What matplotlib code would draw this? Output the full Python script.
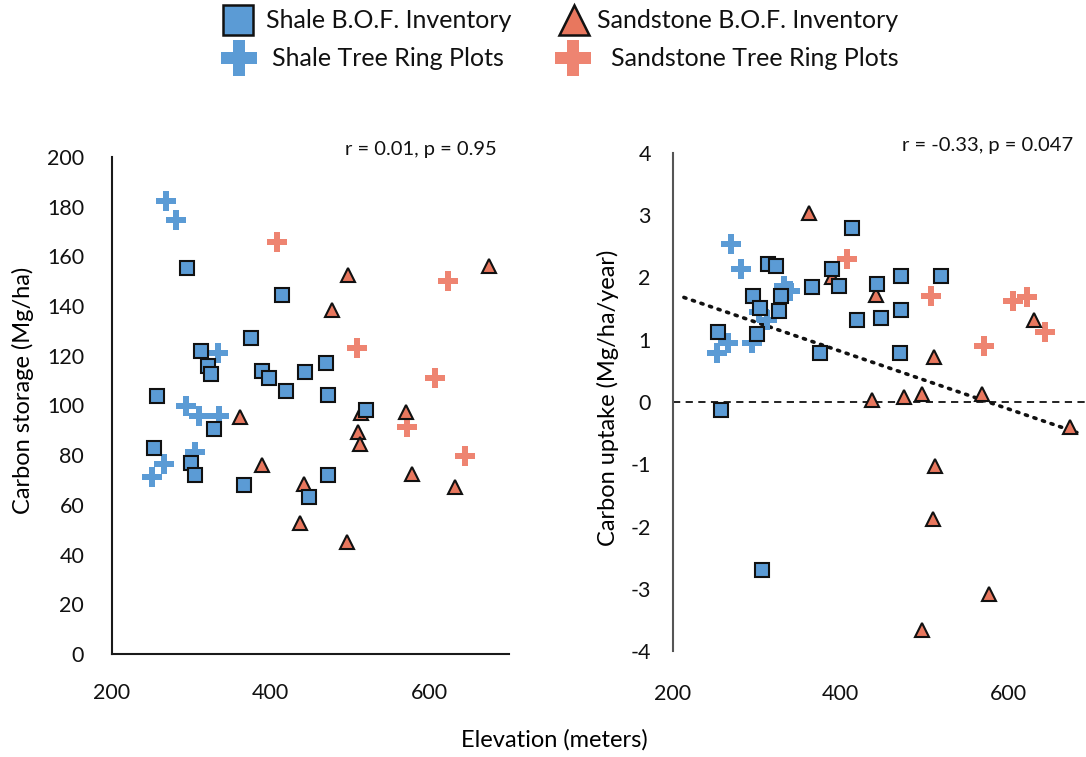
import numpy as np
import matplotlib.pyplot as plt
from matplotlib.lines import Line2D

plt.rcParams['font.family'] = ['Lato', 'DejaVu Sans']
plt.rcParams['axes.unicode_minus'] = False

# colours used by the two soil types
blue = '#5B9BD5'
tri_red = '#E8775E'
cross_red = '#EE8471'

# ---- left panel: carbon storage (Mg/ha) vs elevation (m) ----
shale_bof_elev = [295, 414, 375, 312, 321, 325, 389, 398, 443, 470, 419, 472,
                  257, 328, 520, 253, 299, 304, 472, 366, 448]
shale_bof_store = [155.5, 144.6, 127.2, 121.9, 115.9, 112.7, 113.8, 111.1, 113.5,
                   117.2, 105.7, 104.2, 103.9, 90.7, 98.2, 82.9, 77.0, 72.0, 71.9,
                   68.2, 63.1]
shale_ring_elev = [268, 281, 333, 293, 310, 335, 304, 265, 250]
shale_ring_store = [182.4, 174.6, 121.0, 99.9, 95.8, 95.8, 81.4, 76.3, 71.1]
sand_bof_elev = [497, 675, 477, 361, 513, 570, 510, 512, 389, 578, 632, 442, 437, 496]
sand_bof_store = [152.5, 156.0, 138.5, 95.3, 96.8, 97.4, 89.4, 84.6, 76.2, 72.4,
                  67.3, 68.6, 52.9, 45.2]
sand_ring_elev = [408, 623, 509, 607, 571, 645]
sand_ring_store = [165.6, 150.2, 123.1, 111.0, 91.2, 79.5]

# ---- right panel: carbon uptake (Mg/ha/year) vs elevation (m) ----
shale_bof_elev2 = [414, 313, 323, 390, 398, 366, 296, 329, 304, 326, 443, 472,
                   520, 472, 419, 448, 254, 300, 376, 471, 257, 306]
shale_bof_upt = [2.80, 2.22, 2.19, 2.13, 1.86, 1.84, 1.71, 1.70, 1.51, 1.46, 1.90,
                 2.02, 2.02, 1.47, 1.31, 1.35, 1.12, 1.09, 0.78, 0.78, -0.13, -2.70]
shale_ring_elev2 = [269, 281, 333, 340, 303, 312, 252, 266, 294]
shale_ring_upt = [2.54, 2.13, 1.86, 1.78, 1.45, 1.32, 0.79, 0.95, 0.95]
sand_bof_elev2 = [362, 390, 442, 512, 631, 438, 476, 497, 569, 674, 513, 510, 577, 497]
sand_bof_upt = [3.04, 2.00, 1.72, 0.72, 1.32, 0.04, 0.08, 0.13, 0.13, -0.40,
                -1.03, -1.88, -3.09, -3.67]
sand_ring_elev2 = [408, 508, 571, 606, 622, 644]
sand_ring_upt = [2.30, 1.71, 0.90, 1.63, 1.68, 1.12]

# trend line end points
trend_x = [213, 682]
trend_y = [1.68, -0.49]

W, H = 1086, 757
fig = plt.figure(figsize=(W / 100, H / 100), dpi=100)
ax1 = fig.add_axes([0.1031, 0.1361, 0.3656, 0.6565])
ax2 = fig.add_axes([0.6197, 0.1400, 0.3858, 0.6579])

sq_kw = dict(marker='s', linestyle='none', markersize=10, markerfacecolor=blue,
             markeredgecolor='#111111', markeredgewidth=1.5)
tri_kw = dict(marker='^', linestyle='none', markersize=10, markerfacecolor=tri_red,
              markeredgecolor='#111111', markeredgewidth=1.5)
bc_kw = dict(marker='P', linestyle='none', markersize=14, color=blue,
             markeredgewidth=0)
rc_kw = dict(marker='P', linestyle='none', markersize=14, color=cross_red,
             markeredgewidth=0)

# left panel
ax1.plot(shale_ring_elev, shale_ring_store, **bc_kw)
ax1.plot(sand_ring_elev, sand_ring_store, **rc_kw)
ax1.plot(sand_bof_elev, sand_bof_store, **tri_kw)
ax1.plot(shale_bof_elev, shale_bof_store, **sq_kw)
ax1.set_xlim(200, 700)
ax1.set_ylim(0, 200)
ax1.set_xticks([200, 400, 600])
ax1.set_yticks(np.arange(0, 201, 20))
ax1.set_ylabel('Carbon storage (Mg/ha)', fontsize=17)
ax1.yaxis.set_label_coords(-0.196, 0.531)
for s in ['top', 'right']:
    ax1.spines[s].set_visible(False)
for s in ['left', 'bottom']:
    ax1.spines[s].set_color('#1a1a1a')
    ax1.spines[s].set_linewidth(1.5)
ax1.tick_params(length=0, labelsize=15.5, colors='#111111')
ax1.tick_params(axis='y', pad=20)
ax1.tick_params(axis='x', pad=21)
ax1.text(0.97, 1.015, 'r = 0.01, p = 0.95', transform=ax1.transAxes,
         ha='right', va='center', fontsize=14.5, color='#111111')

# right panel
ax2.axhline(0, color='#111111', linestyle=(0, (4, 3)), linewidth=1.3, zorder=1)
ax2.plot(trend_x, trend_y, color='#111111', linestyle=(0, (0.6, 1.9)),
         linewidth=2.6, dash_capstyle='round', zorder=1)
ax2.plot(shale_ring_elev2, shale_ring_upt, **bc_kw)
ax2.plot(sand_ring_elev2, sand_ring_upt, **rc_kw)
ax2.plot(sand_bof_elev2, sand_bof_upt, **tri_kw)
ax2.plot(shale_bof_elev2, shale_bof_upt, **sq_kw)
ax2.set_xlim(200, 700)
ax2.set_ylim(-4, 4)
ax2.set_xticks([200, 400, 600])
ax2.set_yticks(np.arange(-4, 5, 1))
ax2.set_ylabel('Carbon uptake (Mg/ha/year)', fontsize=17)
ax2.yaxis.set_label_coords(-0.129, 0.508)
for s in ['top', 'right', 'bottom']:
    ax2.spines[s].set_visible(False)
ax2.spines['left'].set_color('#555555')
ax2.spines['left'].set_linewidth(1.5)
ax2.tick_params(length=0, labelsize=15.5, colors='#111111')
ax2.tick_params(axis='y', pad=16)
ax2.tick_params(axis='x', pad=24)
ax2.text(0.955, 1.015, 'r = -0.33, p = 0.047', transform=ax2.transAxes,
         ha='right', va='center', fontsize=14.5, color='#111111')

fig.text(554 / W, 1 - 740 / H, 'Elevation (meters)', ha='center', va='center',
         fontsize=17)

# legend on top, laid out by hand like the original
def px(x, y):
    return x / W, 1 - y / H

legend_keys = [
    (238, 20, dict(marker='s', markersize=22, markerfacecolor=blue,
                   markeredgecolor='#111111', markeredgewidth=1.8),
     266, 'Shale B.O.F. Inventory'),
    (239, 58, dict(marker='P', markersize=26, color=blue, markeredgewidth=0),
     272, 'Shale Tree Ring Plots'),
    (574, 20, dict(marker='^', markersize=22, markerfacecolor=tri_red,
                   markeredgecolor='#111111', markeredgewidth=1.8),
     597, 'Sandstone B.O.F. Inventory'),
    (573, 58, dict(marker='P', markersize=26, color=cross_red, markeredgewidth=0),
     611, 'Sandstone Tree Ring Plots'),
]
for mx, my, style, tx, label in legend_keys:
    kx, ky = px(mx, my)
    fig.add_artist(Line2D([kx], [ky], linestyle='none', transform=fig.transFigure,
                          **style))
    lx, ly = px(tx, my)
    fig.text(lx, ly, label, ha='left', va='center', fontsize=18, color='#111111')

fig.savefig('out.png', dpi=100)
